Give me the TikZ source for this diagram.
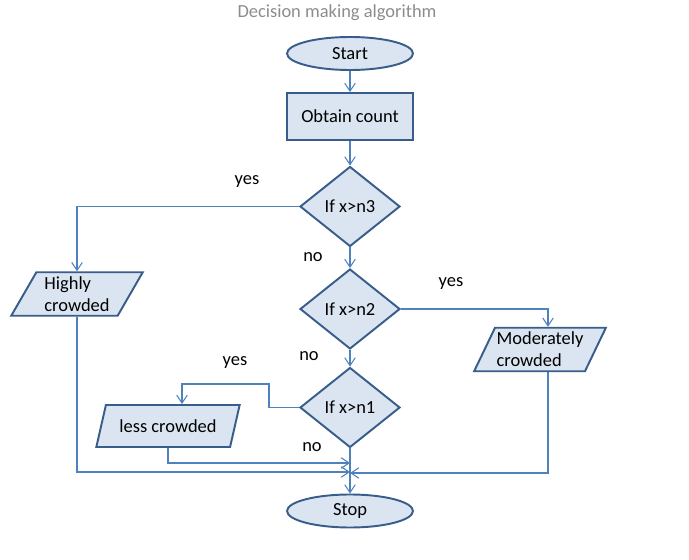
\documentclass[tikz,border=0pt]{standalone}
\usepackage{fontspec}
\setmainfont{Carlito}
\usetikzlibrary{shapes.geometric,arrows.meta}

\definecolor{boxfill}{RGB}{219,229,241}
\definecolor{boxline}{RGB}{56,93,138}
\definecolor{wire}{RGB}{79,129,189}
\definecolor{titlegray}{RGB}{140,140,140}

\tikzset{
  terminal/.style={ellipse, draw=boxline, fill=boxfill, line width=1.1pt,
    minimum width=2.52cm, minimum height=0.66cm, inner sep=0pt},
  process/.style={rectangle, draw=boxline, fill=boxfill, line width=1.1pt,
    minimum width=2.52cm, minimum height=0.94cm, inner sep=0pt},
  decision/.style={diamond, draw=boxline, fill=boxfill, line width=1.1pt,
    minimum width=2cm, minimum height=1.6cm, inner sep=0pt},
  outbox/.style={trapezium, trapezium left angle=60, trapezium right angle=120,
    trapezium stretches=true, draw=boxline, fill=boxfill, line width=1.1pt,
    minimum width=2.64cm, minimum height=0.87cm, inner sep=0pt, align=left},
  wirearrow/.style={draw=wire, line width=0.6pt,
    -{Straight Barb[length=4.5pt,width=6pt]}},
  lbl/.style={inner sep=0pt}
}

\begin{document}
\begin{tikzpicture}[x=0.02cm, y=-0.02cm, font=\fontsize{10.5}{12.5}\selectfont]

\useasboundingbox (0,0) rectangle (689,560);

% title section
\node[text=titlegray] (title) at (337,13) {Decision making algorithm};

% main column section
\node[terminal] (start) at (350,53.5) {Start};
\node[process] (count) at (350,116.5) {Obtain count};
\node[decision] (dnthree) at (350,206.5) {If x>n3};
\node[decision] (dntwo) at (350,309) {If x>n2};
\node[decision] (dnone) at (350,407.5) {If x>n1};
\node[terminal] (stop) at (350,511) {Stop};

% output section
\node[outbox] (high) at (77,294) {Highly\\crowded};
\node[outbox] (moderate) at (540,349.5) {Moderately\\crowded};
\node[outbox, minimum width=2.88cm, minimum height=0.84cm] (less) at (168,426) {less crowded};

% join points above stop
\coordinate (joinless) at (350,463);
\coordinate (joinhigh) at (350,472);
\coordinate (joinmod) at (350,473);

% connectors
\draw[wirearrow] (start) -- (count);
\draw[wirearrow] (count) -- (dnthree);
\draw[wirearrow] (dnthree) -- (dntwo);
\draw[wirearrow] (dntwo) -- (dnone);
\draw[wirearrow] (dnone) -- (stop);

\draw[wirearrow] (dnthree.west) -| (high.north);
\draw[wirearrow] (dntwo.east) -| ([xshift=0.16cm]moderate.north);
\draw[wirearrow] (dnone.west) -- (269,407.5) -- (269,384) -| ([xshift=0.28cm]less.north);

\draw[wirearrow] (less.south) |- (joinless);
\draw[wirearrow] (high.south) |- (joinhigh);
\draw[wirearrow] ([xshift=0.16cm]moderate.south) |- (joinmod);

% labels
\node[lbl] (yesthree) at (247,182) {yes};
\node[lbl] (nothree) at (313,257) {no};
\node[lbl] (yestwo) at (451,284) {yes};
\node[lbl] (notwo) at (309,356) {no};
\node[lbl] (yesone) at (235,363) {yes};
\node[lbl] (noone) at (312,447) {no};

\end{tikzpicture}
\end{document}
